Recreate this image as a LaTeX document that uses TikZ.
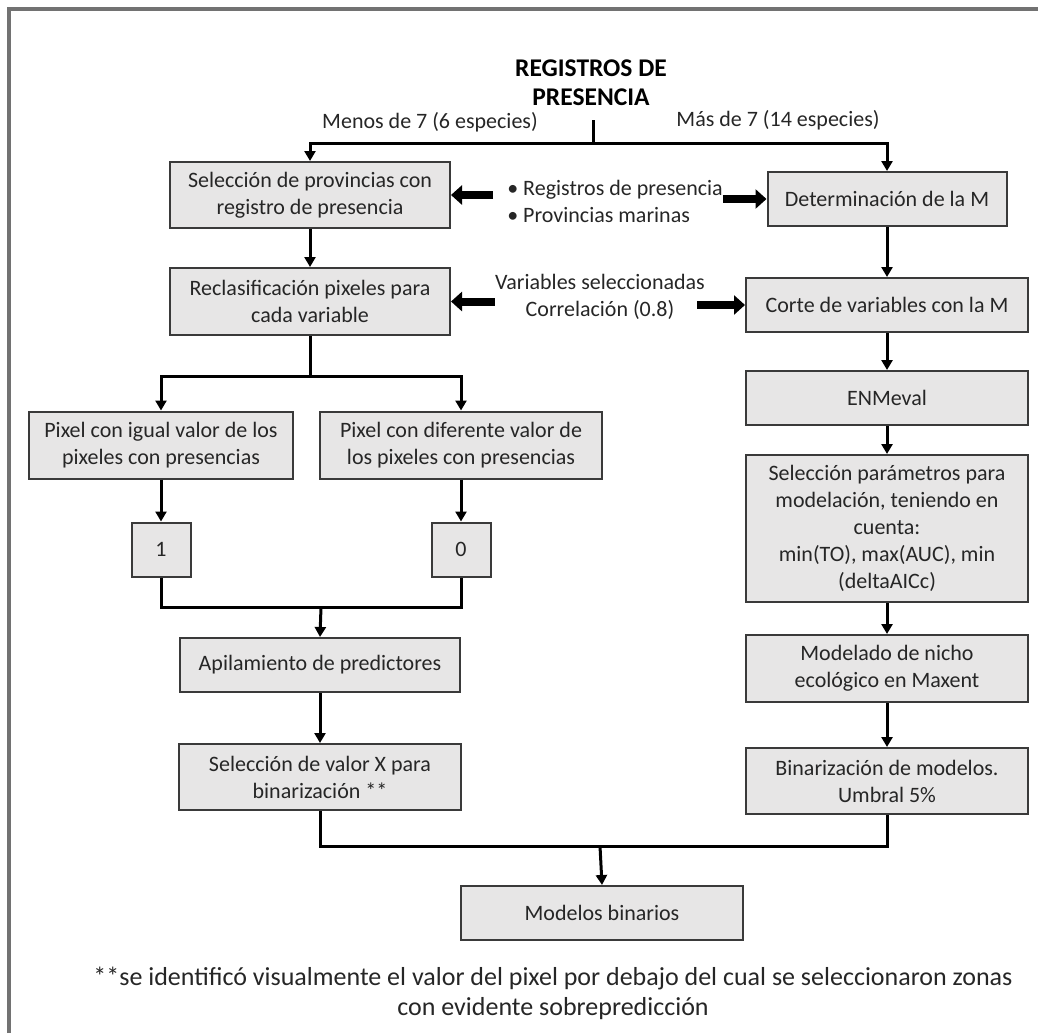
\documentclass[tikz,border=0pt]{standalone}
\usepackage{fontspec}
\setmainfont{Carlito}
\usepackage{tikz}
\usetikzlibrary{arrows.meta, positioning}
\definecolor{boxfill}{HTML}{E7E6E6}
\definecolor{boxline}{HTML}{3A3A3A}
\definecolor{txt}{HTML}{262626}
\definecolor{framegray}{HTML}{727272}

\begin{document}
\begin{tikzpicture}[x=1pt, y=-1pt, node distance=38pt,
    box/.style={draw=boxline, line width=2pt, fill=boxfill, text=txt, align=center,
      font=\fontsize{22}{27}\selectfont, inner sep=0pt, minimum width=282pt, minimum height=54pt},
    lbl/.style={text=txt, align=center, inner sep=0pt, font=\fontsize{22}{27}\selectfont},
    ln/.style={line width=3pt},
    arr/.style={line width=3pt, -{Triangle[length=10pt,width=11pt]}},
    fat/.style={line width=8pt, -{Triangle[length=11pt,width=19pt]}}]
    \useasboundingbox (0,0) rectangle (1038,1033);
    \draw[framegray, line width=4pt] (9,1033) -- (9,9) -- (1038,9);

    \node[font=\fontsize{25.5}{29}\selectfont\bfseries, align=center, inner sep=0pt] (title) at (591,83) {REGISTROS DE\\PRESENCIA};
    \coordinate (split) at (593,143);
    \node[lbl] (menos) at (430,122) {Menos de 7 (6 especies)};
    \node[lbl] (mas) at (778,120) {Más de 7 (14 especies)};

    % left branch
    \node[box, minimum width=280pt, minimum height=66pt] (l1) at (310,195) {Selección de provincias con\\registro de presencia};
    \node[box, minimum width=280pt, minimum height=67pt] (l2) [below=of l1] {Reclasificación pixeles para\\cada variable};
    \node[box, minimum width=264pt, minimum height=67pt] (p1) at (161,445) {Pixel con igual valor de los\\pixeles con presencias};
    \node[box, minimum height=67pt] (p2) [right=25pt of p1] {Pixel con diferente valor de\\los pixeles con presencias};
    \node[box, minimum width=59pt] (b1) [below=42pt of p1] {1};
    \node[box, minimum width=59pt] (b0) [below=42pt of p2] {0};
    \node[box, minimum width=280pt] (apil) at (320,665) {Apilamiento de predictores};
    \node[box, minimum height=66pt] (selx) [below=50pt of apil] {Selección de valor X para\\binarización **};

    % right branch
    \node[box, minimum width=239pt] (r1) at (887,199) {Determinación de la M};
    \node[box] (r2) [below=50pt of r1] {Corte de variables con la M};
    \node[box] (r3) [below=37pt of r2] {ENMeval};
    \node[box, minimum height=147pt] (r4) [below=28pt of r3] {Selección parámetros para\\modelación, teniendo en\\cuenta:\\min(TO), max(AUC), min\\(deltaAICc)};
    \node[box, minimum height=67pt] (r5) [below=31pt of r4] {Modelado de nicho\\ecológico en Maxent};
    \node[box, minimum height=66pt] (r6) [below=44pt of r5] {Binarización de modelos.\\Umbral 5\%};

    \node[box] (mb) at (602,913) {Modelos binarios};

    % inputs
    \node[lbl, align=left] (datos) at (615,201) {\textbullet\ Registros de presencia\\\textbullet\ Provincias marinas};
    \node[lbl] (vars) at (600,297) {Variables seleccionadas\\Correlación (0.8)};

    \node[lbl, font=\fontsize{26}{30}\selectfont] (nota) at (553,993) {**se identificó visualmente el valor del pixel por debajo del cual se seleccionaron zonas\\con evidente sobrepredicción};

    \draw[ln] ([yshift=-14pt]title.south -| split) -- (split);
    \draw[arr] (split) -| (l1.north);
    \draw[arr] (split) -| (r1.north);

    \draw[fat, shorten <=14pt] (datos.west |- l1.east) -- (l1.east);
    \draw[fat] (datos.east |- r1.west) -- (r1.west);
    \draw[fat] (vars.west |- l2.east) -- (l2.east);
    \draw[fat, shorten <=-8pt] (vars.east |- r2.west) -- (r2.west);

    \draw[arr] (l1) -- (l2);
    \draw[ln] (l2.south) -- ++(0,40) coordinate (split2);
    \draw[arr] (split2) -| (p1.north);
    \draw[arr] (split2) -| (p2.north);
    \draw[arr] (p1) -- (b1);
    \draw[arr] (p2) -- (b0);
    \coordinate (merge1) at (321,607);
    \draw[ln] (b1.south) |- (merge1) -| (b0.south);
    \draw[arr] (merge1) -- (apil.north);
    \draw[arr] (apil) -- (selx);

    \draw[arr] (r1) -- (r2);
    \draw[arr] (r2) -- (r3);
    \draw[arr] (r3) -- (r4);
    \draw[arr] (r4) -- (r5);
    \draw[arr] (r5) -- (r6);

    \coordinate (merge2) at (600,846);
    \draw[ln] (selx.south) |- (merge2) -| (r6.south);
    \draw[arr] (merge2) -- (mb.north);
\end{tikzpicture}
\end{document}
